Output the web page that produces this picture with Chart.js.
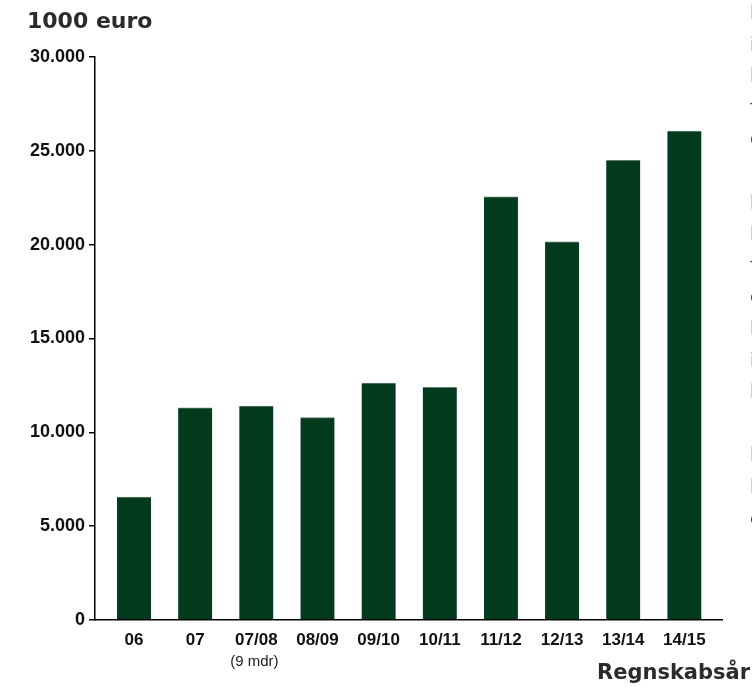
<!DOCTYPE html>
<html>
<head>
<meta charset="utf-8">
<script src="https://cdn.jsdelivr.net/npm/chart.js@4.4.1/dist/chart.umd.min.js"></script>
<style>
  html,body{margin:0;padding:0;background:#fff;overflow:hidden;}
  body{width:752px;height:687px;position:relative;}
  #wrap{position:absolute;left:0;top:0;width:752px;height:687px;}
  .head{position:absolute;font-family:'DejaVu Sans',sans-serif;font-weight:bold;color:#2b2b2b;white-space:nowrap;line-height:1;}
  #unit{left:27px;top:10px;font-size:22px;}
  #xname{left:597px;top:662px;font-size:21px;}
  #side{position:absolute;left:750px;top:-3px;font-family:'DejaVu Sans',sans-serif;font-size:19px;line-height:31.6px;color:#2b2b2b;white-space:pre;}
</style>
</head>
<body>
<div id="wrap"><canvas id="chart" width="752" height="687"></canvas></div>
<div class="head" id="unit">1000 euro</div>
<div class="head" id="xname">Regnskabsår</div>
<div id="side">l
i
l
f
e

l
l
f
e
l
i
l

l
l
e</div>
<script>
(function(){
  const categories = ['06','07','07/08','08/09','09/10','10/11','11/12','12/13','13/14','14/15'];
  const values = [6550, 11300, 11400, 10780, 12620, 12400, 22550, 20150, 24500, 26050];
  const yTicks = [0, 5000, 10000, 15000, 20000, 25000, 30000];
  const subNote = {index:2, text:'(9 mdr)'};

  const narrow = "'Liberation Sans Narrow','Arial Narrow','Liberation Sans',sans-serif";
  const fmt = v => String(v).replace(/\B(?=(\d{3})+(?!\d))/g,'.');

  const notePlugin = {
    id:'note',
    afterDraw(chart){
      const c = chart.ctx, x = chart.scales.x.getPixelForValue(subNote.index);
      c.save();
      c.font = '15px ' + narrow;
      c.fillStyle = '#222';
      c.textAlign = 'center';
      c.textBaseline = 'middle';
      c.fillText(subNote.text, x - 2, 662);
      c.restore();
    }
  };

  new Chart(document.getElementById('chart'), {
    type:'bar',
    data:{datasets:[{
      data: values.map((v,i)=>({x:i, y:v})),
      backgroundColor:'#043a1d',
      borderColor:'#5f7f6c',
      borderWidth:{top:1, left:0, right:0, bottom:0},
      barThickness:34
    }]},
    options:{
      responsive:false,
      animation:false,
      events:[],
      layout:{padding:{left:0, top:57, right:30, bottom:0}},
      plugins:{legend:{display:false}, tooltip:{enabled:false}},
      scales:{
        x:{
          type:'linear',
          offset:false,
          min:-0.638, max:9.615,
          afterBuildTicks: s => { s.ticks = categories.map((c,i)=>({value:i})); },
          afterFit: s => { s.height = 67; },
          grid:{display:false, drawTicks:false},
          border:{color:'#000', width:1.5},
          ticks:{autoSkip:false, maxRotation:0, padding:10, color:'#111',
                 font:{family:narrow, size:17, weight:'bold'},
                 callback: v => categories[v] ?? ''}
        },
        y:{
          min:0, max:30000,
          afterBuildTicks: s => { s.ticks = yTicks.map(v=>({value:v})); },
          afterFit: s => { s.width = 95; },
          grid:{drawOnChartArea:false, tickLength:6, color:'#000', lineWidth:1.5},
          border:{color:'#000', width:1.5},
          ticks:{padding:4, color:'#111',
                 font:{family:narrow, size:18, weight:'bold'},
                 callback: v => fmt(v)}
        }
      }
    },
    plugins:[notePlugin]
  });
})();
</script>
</body>
</html>
